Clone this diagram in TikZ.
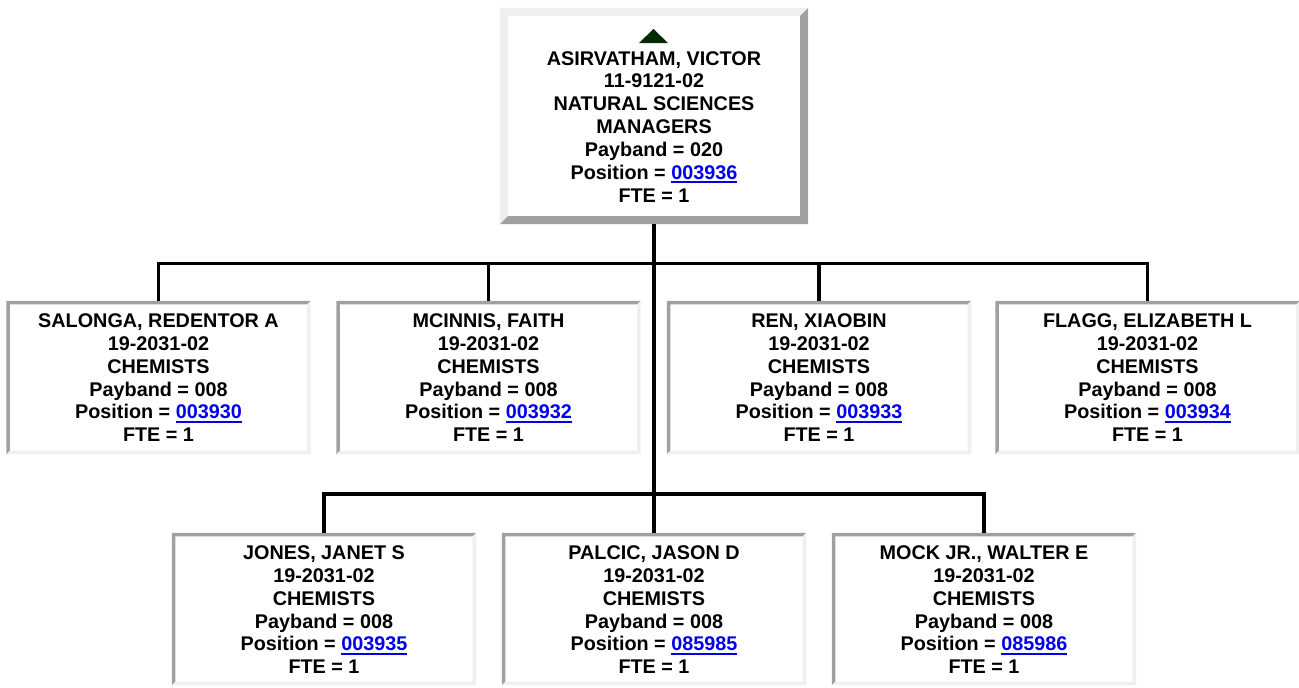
\documentclass[tikz,border=0pt]{standalone}
\usepackage{fontspec}
\setmainfont{Liberation Sans}
\usetikzlibrary{calc}
\definecolor{bvlight}{RGB}{239,239,239}
\definecolor{bvdark}{RGB}{160,160,160}
\definecolor{linkblue}{RGB}{0,0,238}
\definecolor{trigreen}{RGB}{0,42,0}
\newcommand\poslink[1]{\textcolor{linkblue}{\setbox0\hbox{#1}\rlap{\rule[-3.6pt]{\wd0}{1.9pt}}\box0}}
% #1 node, #2 top/left colour, #3 bottom/right colour, #4 border width
\newcommand\bevelbox[4]{%
  \fill[#2] (#1.north west) -- (#1.north east) -- ([shift={(-#4,-#4)}]#1.north east)
     -- ([shift={(#4,-#4)}]#1.north west) -- ([shift={(#4,#4)}]#1.south west) -- (#1.south west) -- cycle;
  \fill[#3] (#1.south east) -- (#1.north east) -- ([shift={(-#4,-#4)}]#1.north east)
     -- ([shift={(-#4,#4)}]#1.south east) -- ([shift={(#4,#4)}]#1.south west) -- (#1.south west) -- cycle;
}
\begin{document}
\begin{tikzpicture}[x=1pt,y=-1pt,
  topbox/.style={rectangle, inner sep=0pt, minimum width=308pt, minimum height=216pt},
  childbox/.style={rectangle, inner sep=0pt, minimum width=304pt, minimum height=153pt},
  txt/.style={inner sep=0pt, anchor=north, align=center,
    font=\fontsize{19.8pt}{22.9pt}\selectfont\bfseries},
  conn/.style={line width=3.3pt, black, line join=miter}]
\fill[white] (0,0) rectangle (1299,688);
\useasboundingbox (0,0) rectangle (1299,688);

% boxes
\node[topbox] (top) at (654,116) {};
\node[childbox] (c1) at (158.5,377.5) {};
\node[childbox] (c2) at (488.5,377.5) {};
\node[childbox] (c3) at (819,377.5) {};
\node[childbox] (c4) at (1147.5,377.5) {};
\node[childbox, minimum height=152pt] (d1) at (324,609) {};
\node[childbox, minimum height=152pt] (d2) at (654,609) {};
\node[childbox, minimum height=152pt] (d3) at (984,609) {};

\bevelbox{top}{bvlight}{bvdark}{8pt}
\foreach \n in {c1,c2,c3,c4,d1,d2,d3}{\bevelbox{\n}{bvdark}{bvlight}{3.5pt}}

% triangle
\fill[trigreen] (639,43) -- (668,43) -- (653.5,29) -- cycle;

% texts
\node[txt] (ttop) at ([yshift=-42pt]top.north) {\rule{0pt}{15pt}ASIRVATHAM, VICTOR\\11-9121-02\\NATURAL SCIENCES\\MANAGERS\\Payband = 020\\Position = \poslink{003936}\\FTE = 1};
\node[txt] (tc1) at ([yshift=-11.3pt]c1.north) {\rule{0pt}{15pt}SALONGA, REDENTOR A\\19-2031-02\\CHEMISTS\\Payband = 008\\Position = \poslink{003930}\\FTE = 1};
\node[txt] (tc2) at ([yshift=-11.3pt]c2.north) {\rule{0pt}{15pt}MCINNIS, FAITH\\19-2031-02\\CHEMISTS\\Payband = 008\\Position = \poslink{003932}\\FTE = 1};
\node[txt] (tc3) at ([yshift=-11.3pt]c3.north) {\rule{0pt}{15pt}REN, XIAOBIN\\19-2031-02\\CHEMISTS\\Payband = 008\\Position = \poslink{003933}\\FTE = 1};
\node[txt] (tc4) at ([yshift=-11.3pt]c4.north) {\rule{0pt}{15pt}FLAGG, ELIZABETH L\\19-2031-02\\CHEMISTS\\Payband = 008\\Position = \poslink{003934}\\FTE = 1};
\node[txt] (td1) at ([yshift=-11.3pt]d1.north) {\rule{0pt}{15pt}JONES, JANET S\\19-2031-02\\CHEMISTS\\Payband = 008\\Position = \poslink{003935}\\FTE = 1};
\node[txt] (td2) at ([yshift=-11.3pt]d2.north) {\rule{0pt}{15pt}PALCIC, JASON D\\19-2031-02\\CHEMISTS\\Payband = 008\\Position = \poslink{085985}\\FTE = 1};
\node[txt] (td3) at ([yshift=-11.3pt]d3.north) {\rule{0pt}{15pt}MOCK JR., WALTER E\\19-2031-02\\CHEMISTS\\Payband = 008\\Position = \poslink{085986}\\FTE = 1};

% connectors
\coordinate (j1) at (654,263.3);
\coordinate (j2) at (654,494);
\draw[conn] (top.south) -- (d2.north);
\draw[conn] (c1.north) -- (c1.north |- j1) -- (c4.north |- j1) -- (c4.north);
\draw[conn] (c2.north) -- (c2.north |- j1);
\draw[conn] (c3.north) -- (c3.north |- j1);
\draw[conn] (d1.north) -- (d1.north |- j2) -- (d3.north |- j2) -- (d3.north);
\end{tikzpicture}
\end{document}
